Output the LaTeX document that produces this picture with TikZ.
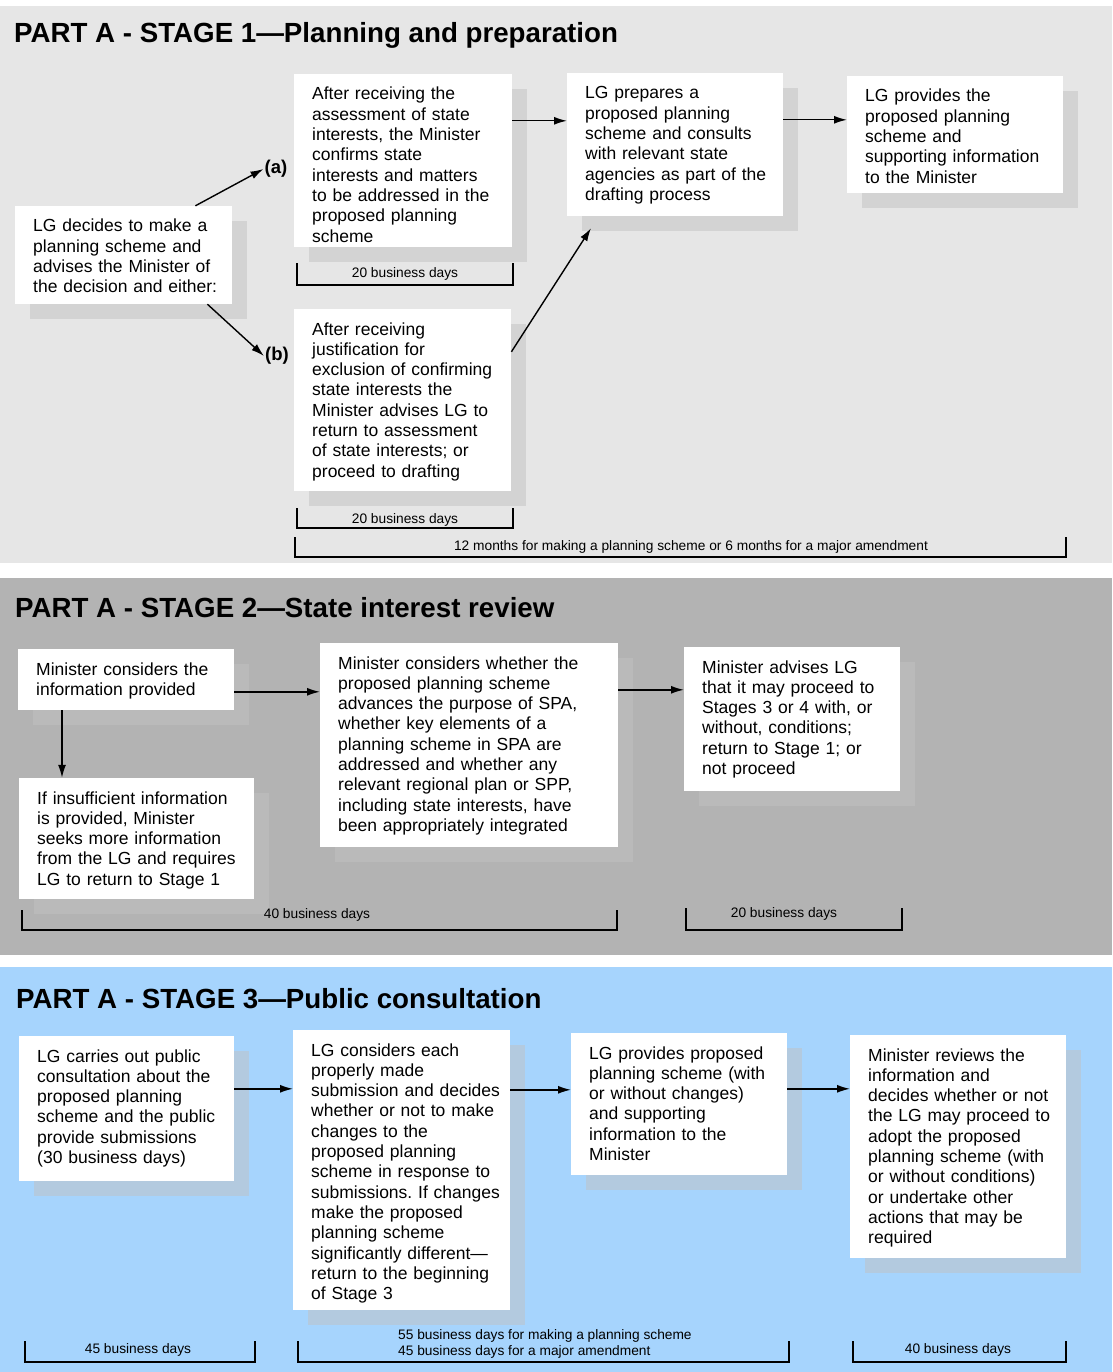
\documentclass[tikz,border=0pt]{standalone}
\usepackage{fontspec}
\setmainfont{Liberation Sans}
\frenchspacing
\usetikzlibrary{arrows.meta,shadows}
\definecolor{stageonebg}{HTML}{E6E6E6}
\definecolor{stageoneshade}{HTML}{D3D3D3}
\definecolor{stagetwobg}{HTML}{B3B3B3}
\definecolor{stagetwoshade}{HTML}{BABABA}
\definecolor{stagethreebg}{HTML}{A6D4FD}
\definecolor{stagethreeshade}{HTML}{B3CADF}

\begin{document}
\begin{tikzpicture}[x=1pt,y=-1pt,
 stagebox/.style={fill=white,anchor=base west,align=left,inner xsep=8pt,inner ysep=0pt,
   text height=26pt,font=\fontsize{17.5}{20.3}\selectfont,execute at begin node={\leftskip=10pt}},
 shadeone/.style={drop shadow={shadow xshift=15pt,shadow yshift=-15pt,fill=stageoneshade,opacity=1}},
 shadetwo/.style={drop shadow={shadow xshift=15pt,shadow yshift=-15pt,fill=stagetwoshade,opacity=1}},
 shadethree/.style={drop shadow={shadow xshift=15pt,shadow yshift=-15pt,fill=stagethreeshade,opacity=1}},
 stagetitle/.style={font=\bfseries\fontsize{27.7}{32}\selectfont,anchor=base west,inner sep=0pt},
 branch/.style={font=\bfseries\fontsize{18.5}{22}\selectfont,inner sep=1pt},
 flow/.style={-{Latex[length=13pt,width=8pt]},line width=1.4pt},
 spanline/.style={line width=1.3pt},
 spantext/.style={font=\fontsize{13.75}{16}\selectfont,anchor=base,inner sep=0pt}]
\fill[white] (0,0) rectangle (1112,1372);
\useasboundingbox (0,0) rectangle (1112,1372);

\fill[stageonebg] (0,6) rectangle (1112,563);
\node[stagetitle] (t1) at (14,43) {PART A - STAGE 1—Planning and preparation};
\node[stagebox,shadeone,text width=201pt,text depth=72pt] (s1lg) at (15,232)
 {LG decides to make a\\planning scheme and\\advises the Minister of\\the decision and either:};
\node[stagebox,shadeone,text width=202pt,text depth=147pt] (s1a) at (294,100)
 {After receiving the\\assessment of state\\interests, the Minister\\confirms state\\interests and matters\\to be addressed in the\\proposed planning\\scheme};
\node[stagebox,shadeone,text width=201pt,text depth=156pt] (s1b) at (294,335)
 {After receiving\\justification for\\exclusion of confirming\\state interests the\\Minister advises LG to\\return to assessment\\of state interests; or\\proceed to drafting};
\node[stagebox,shadeone,text width=200pt,text depth=117pt] (s1prep) at (567,99)
 {LG prepares a\\proposed planning\\scheme and consults\\with relevant state\\agencies as part of the\\drafting process};
\node[stagebox,shadeone,text width=200pt,text depth=91pt] (s1prov) at (847,102)
 {LG provides the\\proposed planning\\scheme and\\supporting information\\to the Minister};
\node[branch] (la) at (276,169) {(a)};
\node[branch] (lb) at (277,356) {(b)};
\draw[flow] ([xshift=-37pt]s1lg.north east) -- (la.west);
\draw[flow] ([xshift=-25pt]s1lg.south east) -- (lb.west);
\draw[flow] ([yshift=-47pt]s1a.north east) -- ([yshift=-47pt]s1a.north east -| s1prep.west);
\draw[flow] ([yshift=-43pt]s1b.north east) -- ([xshift=24pt,yshift=-12pt]s1prep.south west);
\draw[flow] ([yshift=-47pt]s1prep.north east) -- ([yshift=-47pt]s1prep.north east -| s1prov.west);
\draw[spanline] (297,263) -- (297,285) -- (513,285) -- (513,263);
\node[spantext] (d1a) at (405,277) {20 business days};
\draw[spanline] (297,508) -- (297,528) -- (513,528) -- (513,508);
\node[spantext] (d1b) at (405,523) {20 business days};
\draw[spanline] (295,537) -- (295,557) -- (1066,557) -- (1066,537);
\node[spantext] (d1all) at (691,550) {12 months for making a planning scheme or 6 months for a major amendment};

\fill[stagetwobg] (0,578) rectangle (1112,955);
\node[stagetitle] (t2) at (15,617) {PART A - STAGE 2—State interest review};
\node[stagebox,shadetwo,text width=200pt,text depth=35pt] (s2con) at (18,675)
 {Minister considers the\\information provided};
\node[stagebox,shadetwo,text width=219pt,text depth=95pt] (s2ins) at (19,804)
 {If insufficient information\\is provided, Minister\\seeks more information\\from the LG and requires\\LG to return to Stage 1};
\node[stagebox,shadetwo,text width=282pt,text depth=178pt] (s2big) at (320,669)
 {Minister considers whether the\\proposed planning scheme\\advances the purpose of SPA,\\whether key elements of a\\planning scheme in SPA are\\addressed and whether any\\relevant regional plan or SPP,\\including state interests, have\\been appropriately integrated};
\node[stagebox,shadetwo,text width=200pt,text depth=118pt] (s2adv) at (684,673)
 {Minister advises LG\\that it may proceed to\\Stages 3 or 4 with, or\\without, conditions;\\return to Stage 1; or\\not proceed};
\draw[flow] ([yshift=-43pt]s2con.north east) -- ([yshift=-43pt]s2con.north east -| s2big.west);
\draw[flow] ([xshift=44pt]s2con.south west) -- ([xshift=44pt]s2con.south west |- s2ins.north);
\draw[flow] ([yshift=-47pt]s2big.north east) -- ([yshift=-47pt]s2big.north east -| s2adv.west);
\draw[spanline] (22,910) -- (22,930) -- (617,930) -- (617,910);
\node[spantext] (d2a) at (317,918) {40 business days};
\draw[spanline] (686,908) -- (686,930) -- (902,930) -- (902,908);
\node[spantext] (d2b) at (784,917) {20 business days};

\fill[stagethreebg] (0,967) rectangle (1112,1372);
\node[stagetitle] (t3) at (16,1008) {PART A - STAGE 3—Public consultation};
\node[stagebox,shadethree,text width=199pt,text depth=119pt] (s3pub) at (19,1062)
 {LG carries out public\\consultation about the\\proposed planning\\scheme and the public\\provide submissions\\(30 business days)};
\node[stagebox,shadethree,text width=201pt,text depth=254pt] (s3sub) at (293,1056)
 {LG considers each\\properly made\\submission and decides\\whether or not to make\\changes to the\\proposed planning\\scheme in response to\\submissions. If changes\\make the proposed\\planning scheme\\significantly different—\\return to the beginning\\of Stage 3};
\node[stagebox,shadethree,text width=200pt,text depth=116pt] (s3info) at (571,1059)
 {LG provides proposed\\planning scheme (with\\or without changes)\\and supporting\\information to the\\Minister};
\node[stagebox,shadethree,text width=200pt,text depth=197pt] (s3rev) at (850,1061)
 {Minister reviews the\\information and\\decides whether or not\\the LG may proceed to\\adopt the proposed\\planning scheme (with\\or without conditions)\\or undertake other\\actions that may be\\required};
\draw[flow] ([yshift=-53pt]s3pub.north east) -- ([yshift=-53pt]s3pub.north east -| s3sub.west);
\draw[flow] ([yshift=-60pt]s3sub.north east) -- ([yshift=-60pt]s3sub.north east -| s3info.west);
\draw[flow] ([yshift=-56pt]s3info.north east) -- ([yshift=-56pt]s3info.north east -| s3rev.west);
\draw[spanline] (25,1341) -- (25,1362) -- (255,1362) -- (255,1341);
\node[spantext] (d3a) at (138,1353) {45 business days};
\draw[spanline] (298,1341) -- (298,1362) -- (789,1362) -- (789,1341);
\node[spantext,anchor=base west,align=left] (d3b) at (398,1355) {55 business days for making a planning scheme\\45 business days for a major amendment};
\draw[spanline] (853,1341) -- (853,1362) -- (1066,1362) -- (1066,1341);
\node[spantext] (d3c) at (958,1353) {40 business days};
\end{tikzpicture}
\end{document}
